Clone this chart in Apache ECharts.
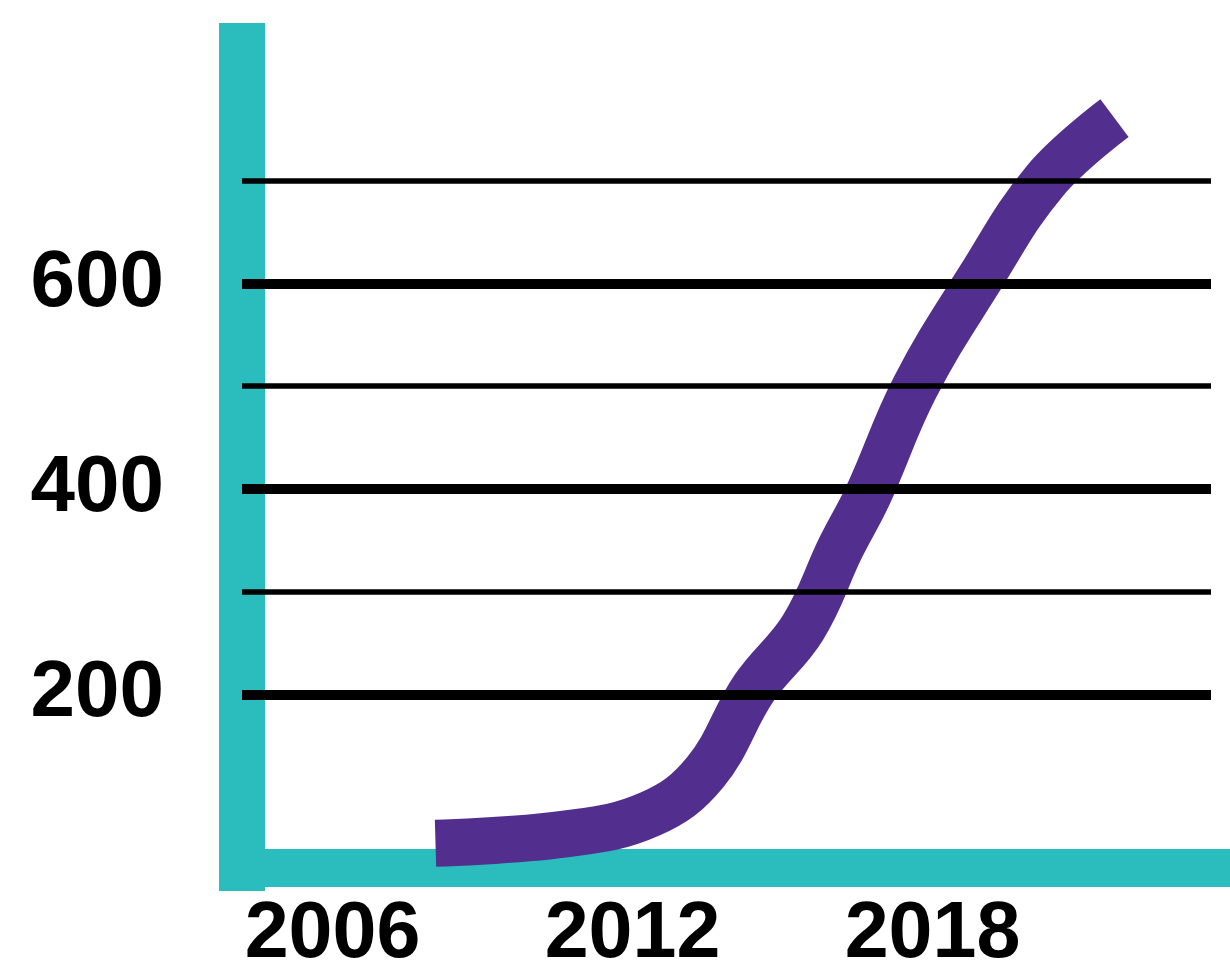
<!DOCTYPE html>
<html>
<head>
<meta charset="utf-8">
<script src="https://cdn.jsdelivr.net/npm/echarts@6/dist/echarts.min.js"></script>
<style>
  html, body { margin: 0; padding: 0; background: #ffffff; }
  #chart { width: 1230px; height: 965px; }
</style>
</head>
<body>
<div id="chart"></div>
<script>
// Data
const years  = [2008.06, 2010.65, 2012.35, 2013.45, 2014.43, 2015.41, 2016.17, 2016.71, 2017.65, 2018.95, 2020.25, 2021.64];
const values = [55, 64, 83.5, 124, 206, 265, 343.5, 394, 499, 605, 700, 761];
const xTickLabels = [2006, 2012, 2018];
const yTickLabels = [200, 400, 600];
const majorGrid = [200, 400, 600];
const minorGrid = [300, 500, 700];

const TEAL = '#2bbdbd';
const PURPLE = '#522f8f';
const FONT = '"Liberation Sans", Arial, Helvetica, sans-serif';

const seriesData = years.map((y, i) => [y, values[i]]);
const gridLines = []
  .concat(majorGrid.map(v => ({ yAxis: v, lineStyle: { width: 10, color: '#000', type: 'solid' } })))
  .concat(minorGrid.map(v => ({ yAxis: v, lineStyle: { width: 5.5, color: '#000', type: 'solid' } })));

const chart = echarts.init(document.getElementById('chart'), null, { renderer: 'canvas' });
chart.setOption({
  animation: false,
  backgroundColor: '#ffffff',
  grid: { left: 242, right: 19, top: 46, bottom: 97, containLabel: false, outerBoundsMode: 'none' },
  xAxis: {
    type: 'value',
    min: 2004.19,
    max: 2023.57,
    splitLine: { show: false },
    axisTick: { show: false },
    axisLine: { show: true, onZero: false, lineStyle: { color: TEAL, width: 38, cap: 'square' } },
    axisLabel: {
      customValues: xTickLabels,
      formatter: v => String(Math.round(v)),
      color: '#000', fontSize: 79, fontWeight: 'bold', fontFamily: FONT,
      margin: 67, verticalAlign: 'middle'
    }
  },
  yAxis: {
    type: 'value',
    min: 30.96,
    max: 831.2,
    splitLine: { show: false },
    axisTick: { show: false },
    axisLine: { show: true, onZero: false, lineStyle: { color: TEAL, width: 46, cap: 'square' } },
    axisLabel: {
      customValues: yTickLabels,
      formatter: v => String(Math.round(v)),
      color: '#000', fontSize: 80, fontWeight: 'bold', fontFamily: FONT,
      margin: 78
    }
  },
  series: [{
    type: 'line',
    data: seriesData,
    smooth: 0.4,
    showSymbol: false,
    symbol: 'none',
    lineStyle: { color: PURPLE, width: 47, cap: 'butt', join: 'round' },
    emphasis: { disabled: true },
    markLine: {
      silent: true,
      symbol: ['none', 'none'],
      label: { show: false },
      emphasis: { disabled: true },
      animation: false,
      data: gridLines
    }
  }]
});
</script>
</body>
</html>
